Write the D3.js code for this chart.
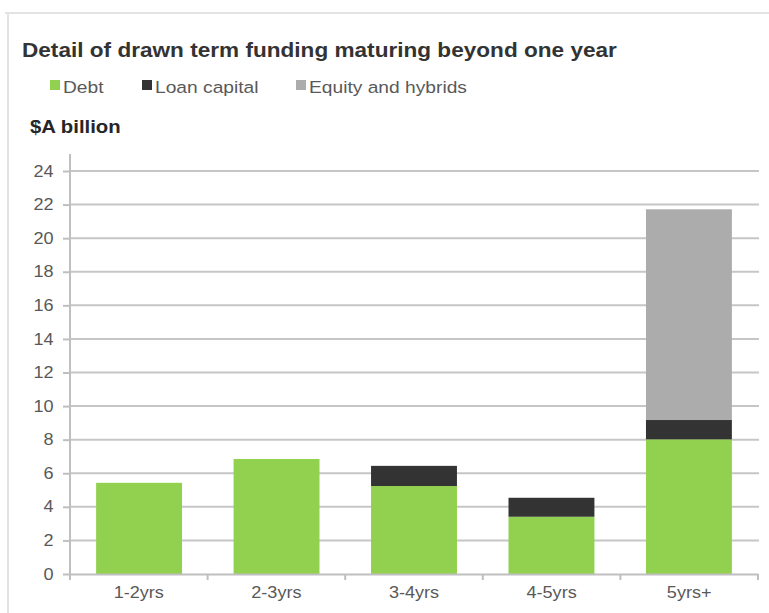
<!DOCTYPE html>
<html>
<meta charset="utf-8">
<style>
body {
  margin: 0;
  font-family: 'Liberation Sans', Arial, sans-serif;
  background: #fff;
}
.axis text {
  font-size: 16px;
  fill: #595959;
}
.axis path, .axis line {
  stroke: #bfbfbf;
  stroke-width: 2;
}
.grid line {
  stroke: #c6c6c6;
  stroke-width: 2;
}
</style>
<body>
<script src="https://cdnjs.cloudflare.com/ajax/libs/d3/7.8.5/d3.min.js"></script>
<script>
var w = 769, h = 613;
var sx = 1.13; // the original text is a little wider than it is tall

// data
var categories = ["1-2yrs", "2-3yrs", "3-4yrs", "4-5yrs", "5yrs+"];
var debt = [5.43, 6.85, 5.24, 3.41, 8.02];
var loanCapital = [0, 0, 1.2, 1.13, 1.15];
var equityHybrids = [0, 0, 0, 0, 12.55];
var seriesNames = ["Debt", "Loan capital", "Equity and hybrids"];
var seriesColors = ["#92d050", "#333333", "#acacac"];
var yTicks = [0, 2, 4, 6, 8, 10, 12, 14, 16, 18, 20, 22, 24];

var rows = categories.map(function(c, i) {
  return {cat: c, "Debt": debt[i], "Loan capital": loanCapital[i], "Equity and hybrids": equityHybrids[i]};
});

var svg = d3.select("body").append("svg")
    .attr("width", w)
    .attr("height", h);

// frame lines (top and left)
svg.append("line").attr("x1", 5).attr("x2", w).attr("y1", 13).attr("y2", 13)
    .attr("stroke", "#e3e3e3").attr("stroke-width", 2);
svg.append("line").attr("x1", 8).attr("x2", 8).attr("y1", 13).attr("y2", h)
    .attr("stroke", "#e3e3e3").attr("stroke-width", 2);

// stretched text helper
function label(x, y, txt) {
  return svg.append("text")
      .attr("transform", "translate(" + x + "," + y + ") scale(" + sx + ",1)")
      .text(txt);
}

// title
label(22, 57, "Detail of drawn term funding maturing beyond one year")
    .style("font-size", "20px").style("font-weight", "bold").style("fill", "#333");

// legend
var legendX = [50, 142, 296];
var legend = svg.selectAll(".legend")
    .data(seriesNames)
    .enter().append("g")
    .attr("class", "legend")
    .attr("transform", function(d, i) { return "translate(" + legendX[i] + ",80)"; });
legend.append("rect")
    .attr("x", 0).attr("y", 0).attr("width", 10).attr("height", 10)
    .style("fill", function(d, i) { return seriesColors[i]; });
legend.append("text")
    .attr("transform", "translate(13,12.5) scale(" + sx + ",1)")
    .style("font-size", "17px").style("fill", "#595959")
    .text(function(d) { return d; });

// unit label
label(30, 133, "$A billion")
    .style("font-size", "18px").style("font-weight", "bold").style("fill", "#262626");

// scales
var x = d3.scaleBand().domain(categories).range([70, 758]).paddingInner(0.375).paddingOuter(0.19);
var xAxisScale = d3.scaleBand().domain(categories).range([70, 758]);
var y = d3.scaleLinear().domain([0, 24]).range([574, 171]);

// gridlines
svg.append("g").attr("class", "grid")
    .selectAll("line").data(yTicks.slice(1)).enter().append("line")
    .attr("x1", 70).attr("x2", 759)
    .attr("y1", function(d) { return y(d); })
    .attr("y2", function(d) { return y(d); });

// stacked bars
var stack = d3.stack().keys(seriesNames)(rows);
svg.selectAll(".series")
    .data(stack).enter().append("g")
    .attr("class", "series")
    .style("fill", function(d, i) { return seriesColors[i]; })
    .selectAll("rect")
    .data(function(d) { return d.filter(function(p) { return p[1] > p[0]; }); })
    .enter().append("rect")
    .attr("x", function(d) { return x(d.data.cat); })
    .attr("width", x.bandwidth())
    .attr("y", function(d) { return y(d[1]); })
    .attr("height", function(d) { return y(d[0]) - y(d[1]); });

// y axis
var yAxis = svg.append("g").attr("class", "axis")
    .attr("transform", "translate(70,0)")
    .call(d3.axisLeft(y).tickValues(yTicks).tickSize(7).tickPadding(10).tickSizeOuter(0));
yAxis.select(".domain").attr("d", "M0," + (y(0) + 5) + "V" + (y(24) - 17));
yAxis.selectAll(".tick text")
    .attr("x", -16.5 / sx)
    .attr("transform", "scale(" + sx + ",1)");

// x axis
var xAxis = svg.append("g").attr("class", "axis")
    .attr("transform", "translate(0," + y(0) + ")")
    .call(d3.axisBottom(xAxisScale).tickSize(0).tickPadding(13).tickSizeOuter(0));
xAxis.selectAll(".tick line").remove();
xAxis.selectAll(".tick text")
    .attr("transform", "scale(" + sx + ",1)");
xAxis.selectAll(".xb").data(categories.concat(["end"])).enter().append("line")
    .attr("x1", function(d, i) { return 70 + i * xAxisScale.step(); })
    .attr("x2", function(d, i) { return 70 + i * xAxisScale.step(); })
    .attr("y1", 0).attr("y2", 6);
</script>
</body>
</html>
